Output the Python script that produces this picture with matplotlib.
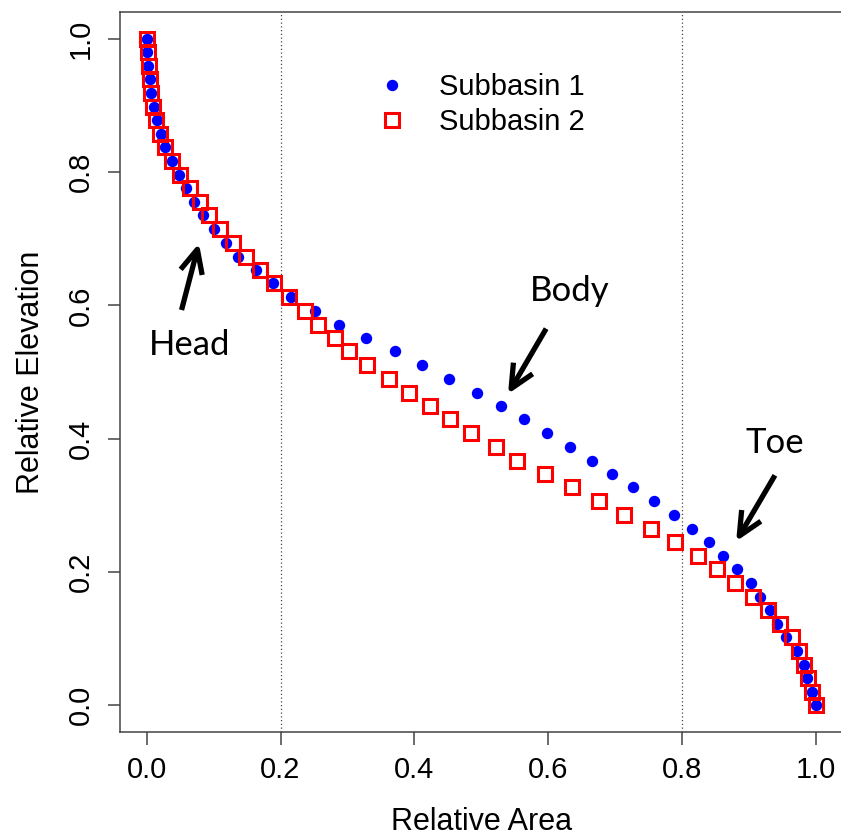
import numpy as np
import matplotlib
matplotlib.use("Agg")
import matplotlib.pyplot as plt
from matplotlib.lines import Line2D

plt.rcParams['font.family'] = ['Liberation Sans', 'DejaVu Sans']

# Relative elevation levels (same for both subbasins)
elevation = [1.000, 0.980, 0.959, 0.939, 0.918, 0.898, 0.878, 0.857, 0.837, 0.816,
             0.796, 0.776, 0.755, 0.735, 0.714, 0.694, 0.673, 0.653, 0.633, 0.612,
             0.592, 0.571, 0.551, 0.531, 0.510, 0.490, 0.469, 0.449, 0.429, 0.408,
             0.388, 0.367, 0.347, 0.327, 0.306, 0.286, 0.265, 0.245, 0.224, 0.204,
             0.184, 0.163, 0.143, 0.122, 0.102, 0.082, 0.061, 0.041, 0.020, 0.000]

# Relative area
area_sub1 = [0.000, 0.001, 0.0025, 0.0045, 0.007, 0.0115, 0.016, 0.0215, 0.028, 0.037,
             0.048, 0.058, 0.071, 0.084, 0.100, 0.119, 0.137, 0.163, 0.189, 0.216,
             0.252, 0.287, 0.328, 0.371, 0.411, 0.452, 0.493, 0.530, 0.564, 0.598,
             0.632, 0.665, 0.696, 0.727, 0.758, 0.788, 0.815, 0.841, 0.861, 0.882,
             0.903, 0.916, 0.931, 0.942, 0.955, 0.972, 0.982, 0.987, 0.994, 1.000]
area_sub2 = [0.000, 0.002, 0.0035, 0.0055, 0.007, 0.0095, 0.0135, 0.0195, 0.028, 0.038,
             0.049, 0.064, 0.079, 0.093, 0.110, 0.129, 0.148, 0.169, 0.190, 0.212,
             0.236, 0.256, 0.282, 0.303, 0.329, 0.362, 0.392, 0.424, 0.454, 0.485,
             0.522, 0.554, 0.595, 0.636, 0.676, 0.714, 0.754, 0.789, 0.824, 0.853,
             0.879, 0.906, 0.929, 0.947, 0.965, 0.975, 0.982, 0.989, 0.994, 1.000]

ticks = [0.0, 0.2, 0.4, 0.6, 0.8, 1.0]
tick_labels = ['0.0', '0.2', '0.4', '0.6', '0.8', '1.0']
guides = [0.2, 0.8]

# annotation labels: text, text position, arrow tail, arrow tip
notes = ['Head', 'Body', 'Toe']
note_xy = [(0.064, 0.525), (0.632, 0.607), (0.939, 0.378)]
arrow_tail = [(0.052, 0.593), (0.597, 0.565), (0.939, 0.345)]
arrow_tip = [(0.078, 0.693), (0.540, 0.467), (0.881, 0.246)]

fig = plt.figure(figsize=(8.41, 8.38), dpi=100)
ax = fig.add_axes([120 / 841, 106 / 838, 722.5 / 841, 720 / 838])

for g in guides:
    ax.axvline(g, color='#444444', linestyle=(0, (1, 2)), linewidth=0.9, zorder=1)

blue_style = dict(marker='o', color='#0000ff', markersize=8.2, markeredgewidth=0)
red_style = dict(marker='s', markerfacecolor='none', markeredgecolor='#ff0000',
                 markersize=9.4, markeredgewidth=2.2)

ax.plot(area_sub1, elevation, linestyle='none', zorder=3, **blue_style)
ax.plot(area_sub2, elevation, linestyle='none', zorder=4, **red_style)

ax.set_xlim(-0.04, 1.04)
ax.set_ylim(-0.04, 1.04)
ax.set_xticks(ticks)
ax.set_xticklabels(tick_labels)
ax.set_yticks(ticks)
ax.set_yticklabels(tick_labels, rotation=90, va='center')
ax.tick_params(direction='out', length=9, width=1.1, color='#444444',
               labelsize=21, pad=8)
ax.tick_params(axis='y', pad=9)
for sp in ax.spines.values():
    sp.set_color('#444444')
    sp.set_linewidth(1.1)

ax.set_xlabel('Relative Area', fontsize=22, labelpad=16.5)
ax.set_ylabel('Relative Elevation', fontsize=22, labelpad=15)

handles = [Line2D([], [], linestyle='none', **blue_style),
           Line2D([], [], linestyle='none', **red_style)]
ax.legend(handles, ['Subbasin 1', 'Subbasin 2'], loc='upper left',
          bbox_to_anchor=(0.336, 0.915), frameon=False, fontsize=21,
          borderaxespad=0, borderpad=0, handlelength=2.0, handletextpad=0.6,
          labelspacing=0.25)

for txt, pos, tail, tip in zip(notes, note_xy, arrow_tail, arrow_tip):
    ax.text(pos[0], pos[1], txt, fontsize=25, family=['Lato', 'DejaVu Sans'],
            ha='center', va='baseline')
    ax.annotate('', xy=tip, xytext=tail,
                arrowprops=dict(arrowstyle='->,head_length=17,head_width=8',
                                mutation_scale=1, color='black', linewidth=3.8,
                                shrinkA=0, shrinkB=0, capstyle='butt'))

fig.savefig('out.png', dpi=100)
